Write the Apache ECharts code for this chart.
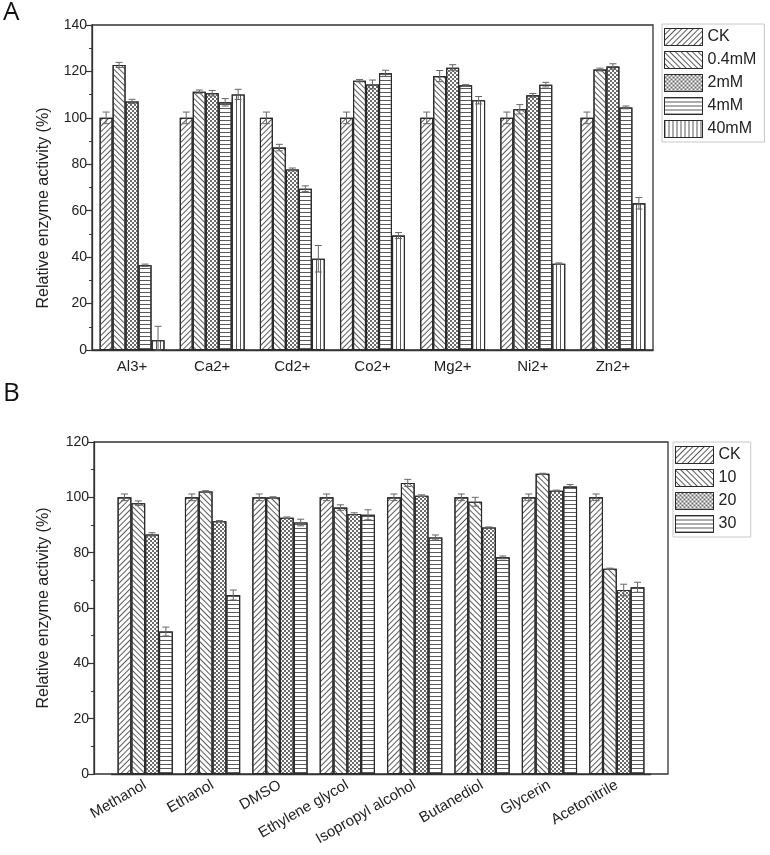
<!DOCTYPE html>
<html>
<head>
<meta charset="utf-8">
<script src="https://cdn.jsdelivr.net/npm/echarts@6/dist/echarts.min.js"></script>
<style>html,body{margin:0;padding:0;background:#fff;}#c{width:770px;height:855px;}</style>
</head>
<body>
<div id="c"></div>
<script>
// ---- Panel A: metal ions ----
const metalCats = ['Al3+', 'Ca2+', 'Cd2+', 'Co2+', 'Mg2+', 'Ni2+', 'Zn2+'];
const metalNames = ['CK', '0.4mM', '2mM', '4mM', '40mM'];
const metalCK = [100, 100, 100, 100, 100, 100, 100];
const metal04 = [122.8, 111.3, 87.2, 116.0, 118.0, 103.7, 120.8];
const metal2 = [107.1, 110.6, 77.8, 114.4, 121.6, 109.7, 122.1];
const metal4 = [36.5, 106.7, 69.5, 119.2, 114.0, 114.3, 104.5];
const metal40 = [4.2, 110.1, 39.3, 49.3, 107.6, 37.2, 63.2];
const metalCKErr = [2.5, 2.5, 2.5, 2.5, 2.5, 2.5, 2.5];
const metal04Err = [1.1, 0.7, 1.4, 0.5, 2.4, 2.0, 0.6];
const metal2Err = [0.9, 1.2, 0.6, 1.9, 1.3, 0.8, 1.2];
const metal4Err = [0.5, 1.6, 1.2, 1.3, 0.3, 1.0, 0.6];
const metal40Err = [6.0, 2.2, 5.7, 1.3, 1.6, 0.3, 2.5];
const metalTicks = [0, 20, 40, 60, 80, 100, 120, 140];

// ---- Panel B: organic solvents ----
const solventCats = ['Methanol', 'Ethanol', 'DMSO', 'Ethylene glycol', 'Isopropyl alcohol', 'Butanediol', 'Glycerin', 'Acetonitrile'];
const solventNames = ['CK', '10', '20', '30'];
const solventCK = [100, 100, 100, 100, 100, 100, 100, 100];
const solvent10 = [97.9, 102.1, 99.9, 96.3, 105.2, 98.4, 108.5, 74.2];
const solvent20 = [86.6, 91.4, 92.6, 94.0, 100.6, 89.1, 102.4, 66.5];
const solvent30 = [51.5, 64.7, 90.9, 93.7, 85.5, 78.3, 103.9, 67.5];
const solventCKErr = [1.2, 1.2, 1.2, 1.2, 1.2, 1.2, 1.2, 1.2];
const solvent10Err = [0.8, 0.3, 0.3, 1.0, 1.3, 1.6, 0.2, 0.2];
const solvent20Err = [0.6, 0.2, 0.3, 0.4, 0.3, 0.2, 0.2, 2.1];
const solvent30Err = [1.6, 1.8, 1.2, 1.8, 0.9, 0.5, 0.7, 1.8];
const solventTicks = [0, 20, 40, 60, 80, 100, 120];

const FONT = '"Liberation Sans", Arial, sans-serif';
const AXC = '#333';
const PAT = '#5a5a5a';

const decals = [
  { symbol: 'rect', symbolSize: 1, dashArrayX: [1, 0], dashArrayY: [1, 2.4], rotation: -Math.PI / 4, color: PAT },
  { symbol: 'rect', symbolSize: 1, dashArrayX: [1, 0], dashArrayY: [1, 2.4], rotation: Math.PI / 4, color: PAT },
  { symbol: 'rect', symbolSize: 1, dashArrayX: [[2, 2], [0, 2, 2, 0]], dashArrayY: [2, 0], rotation: 0, color: '#6a6a6a' },
  { symbol: 'rect', symbolSize: 1, dashArrayX: [1, 0], dashArrayY: [1, 2.2], rotation: 0, color: PAT },
  { symbol: 'rect', symbolSize: 1, dashArrayX: [1, 2.2], dashArrayY: [1, 0], rotation: 0, color: PAT }
];

function barSeries(name, data, xi, yi, k, gap) {
  return {
    type: 'bar', name: name, data: data, xAxisIndex: xi, yAxisIndex: yi,
    barGap: '0%', barCategoryGap: gap,
    itemStyle: { color: '#fff', borderColor: '#2a2a2a', borderWidth: 1.1, decal: decals[k] },
    emphasis: { disabled: true }, z: 2
  };
}

function errSeries(vals, errs, xi, yi, k, n, gapFrac) {
  return {
    type: 'custom', xAxisIndex: xi, yAxisIndex: yi, z: 5, silent: true,
    data: vals.map((v, i) => [i, v, errs[i]]),
    encode: { x: 0, y: 1 },
    renderItem: function (params, api) {
      const ci = api.value(0), v = api.value(1), e = api.value(2);
      const band = api.size([1, 0])[0];
      const used = band * (1 - gapFrac);
      const bw = used / n;
      const cx = api.coord([ci, v])[0] - used / 2 + bw * (k + 0.5);
      const yt = api.coord([ci, v + e])[1];
      const yb = api.coord([ci, Math.max(0, v - e)])[1];
      const cap = 3.5;
      const st = { stroke: '#666', lineWidth: 1 };
      return {
        type: 'group', children: [
          { type: 'line', shape: { x1: cx, y1: yt, x2: cx, y2: yb }, style: st },
          { type: 'line', shape: { x1: cx - cap, y1: yt, x2: cx + cap, y2: yt }, style: st },
          { type: 'line', shape: { x1: cx - cap, y1: yb, x2: cx + cap, y2: yb }, style: st }
        ]
      };
    }
  };
}

function yAxisCfg(gi, max, ticks, offset) {
  return {
    type: 'value', gridIndex: gi, min: ticks[0], max: max, interval: ticks[1] - ticks[0], offset: offset,
    axisLine: { show: true, lineStyle: { color: AXC, width: 1.3 } },
    axisTick: { show: true, length: 6, lineStyle: { color: AXC, width: 1.2 } },
    minorTick: { show: true, splitNumber: 2, length: 3, lineStyle: { color: AXC, width: 1 } },
    splitLine: { show: false },
    axisLabel: { color: '#222', fontSize: 14, fontFamily: FONT, margin: 5 }
  };
}

const metalVals = [metalCK, metal04, metal2, metal4, metal40];
const metalErrs = [metalCKErr, metal04Err, metal2Err, metal4Err, metal40Err];
const solventVals = [solventCK, solvent10, solvent20, solvent30];
const solventErrs = [solventCKErr, solvent10Err, solvent20Err, solvent30Err];

const series = [];
metalNames.forEach((nm, k) => series.push(barSeries(nm, metalVals[k], 0, 0, k, '19%')));
metalNames.forEach((nm, k) => series.push(errSeries(metalVals[k], metalErrs[k], 0, 0, k, 5, 0.19)));
solventNames.forEach((nm, k) => series.push(barSeries(nm, solventVals[k], 1, 1, k, '18%')));
solventNames.forEach((nm, k) => series.push(errSeries(solventVals[k], solventErrs[k], 1, 1, k, 4, 0.18)));

const legendBase = {
  orient: 'vertical', itemWidth: 38, itemHeight: 17, itemGap: 5, itemTextGap: 5,
  borderColor: '#c8c8c8', borderWidth: 1, selectedMode: false,
  textStyle: { fontSize: 16, fontFamily: FONT, color: '#222' },
  itemStyle: { borderColor: '#2a2a2a', borderWidth: 1 },
  icon: 'rect'
};

const option = {
  animation: false,
  backgroundColor: '#fff',
  grid: [
    { left: 92, top: 25, width: 561, height: 325, show: true, borderColor: AXC, borderWidth: 1.3, backgroundColor: 'transparent' },
    { left: 111.5, top: 442, width: 539, height: 332 },
    { left: 94, top: 442, width: 574, height: 332, show: true, borderColor: AXC, borderWidth: 1.3, backgroundColor: 'transparent' }
  ],
  xAxis: [
    { type: 'category', gridIndex: 0, data: metalCats,
      axisLine: { lineStyle: { color: AXC, width: 1.3 } }, axisTick: { show: false },
      axisLabel: { color: '#222', fontSize: 15, fontFamily: FONT, margin: 9 } },
    { type: 'category', gridIndex: 1, data: solventCats,
      axisLine: { lineStyle: { color: AXC, width: 1.3 } }, axisTick: { show: false },
      axisLabel: { color: '#222', fontSize: 15, fontFamily: FONT, margin: 10, rotate: 30, interval: 0 } },
    { type: 'value', gridIndex: 2, show: false, min: 0, max: 1 }
  ],
  yAxis: [
    yAxisCfg(0, 140, metalTicks, 0),
    yAxisCfg(1, 120, solventTicks, 17.5),
    { type: 'value', gridIndex: 2, show: false, min: 0, max: 1 }
  ],
  legend: [
    Object.assign({}, legendBase, { data: metalNames, left: 662, top: 24, padding: [4, 8, 4, 2] }),
    Object.assign({}, legendBase, { data: solventNames, left: 673, top: 442, padding: [4, 10, 4, 2] })
  ],
  graphic: [
    { type: 'text', left: 3, top: 0, style: { text: 'A', fontSize: 26, fontFamily: '"Open Sans", sans-serif', fill: '#111' } },
    { type: 'text', left: 3, top: 381, style: { text: 'B', fontSize: 26, fontFamily: '"Open Sans", sans-serif', fill: '#111' } },
    { type: 'text', x: 44, y: 208, rotation: Math.PI / 2,
      style: { text: 'Relative enzyme activity (%)', fontSize: 16, fontFamily: FONT, fill: '#222', align: 'center', verticalAlign: 'middle' } },
    { type: 'text', x: 44, y: 608, rotation: Math.PI / 2,
      style: { text: 'Relative enzyme activity (%)', fontSize: 16, fontFamily: FONT, fill: '#222', align: 'center', verticalAlign: 'middle' } }
  ],
  series: series
};

const chart = echarts.init(document.getElementById('c'), null, { renderer: 'canvas' });
chart.setOption(option);
</script>
</body>
</html>
